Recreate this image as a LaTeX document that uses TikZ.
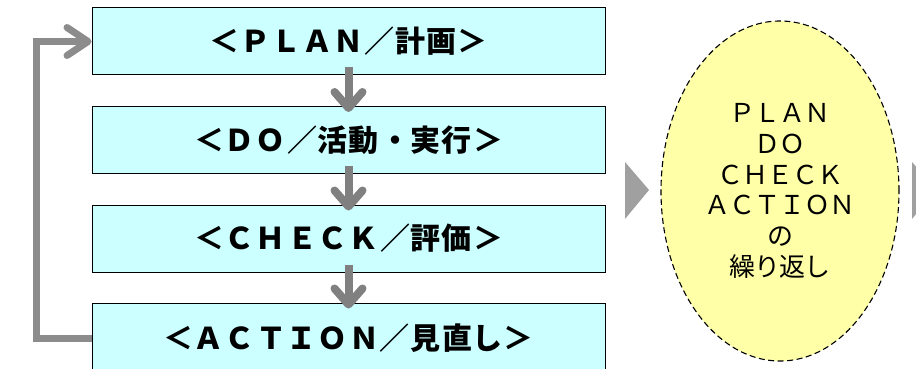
\documentclass[tikz,border=0pt]{standalone}
\usepackage{fontspec}
\newfontfamily\jp{Noto Sans CJK JP}
\usetikzlibrary{arrows.meta,shapes.geometric}
\definecolor{boxfill}{HTML}{CCFFFF}
\definecolor{ovalfill}{HTML}{FFFFA8}
\definecolor{arrgray}{HTML}{808080}
\definecolor{loopgray}{HTML}{8C8C8C}
\definecolor{trigray}{HTML}{A0A0A0}
\makeatletter
\def\lsp#1#2{\def\lsp@sk{#1}\lsp@a#2\relax}
\def\lsp@a#1{\ifx#1\relax\unskip\else#1\hspace{\lsp@sk}\expandafter\lsp@a\fi}
\makeatother
\tikzset{
  stepbox/.style={rectangle, draw=black, line width=1pt, fill=boxfill,
    minimum width=513pt, minimum height=67pt, inner sep=0pt,
    font=\jp\bfseries\fontsize{30}{34}\selectfont},
  oval/.style={ellipse, draw=black, line width=1.1pt, dash pattern=on 6pt off 3.5pt,
    fill=ovalfill, minimum width=238pt, minimum height=340pt, inner sep=0pt,
    align=center, font=\jp\fontsize{26}{30.7}\selectfont},
  flow/.style={draw=arrgray, line width=8pt,
    -{Straight Barb[length=16pt, width=28pt, round]}},
  loopline/.style={draw=loopgray, line width=7pt,
    -{Straight Barb[length=21pt, width=28pt, round]}},
  tri/.style={fill=trigray}
}
\begin{document}
\begin{tikzpicture}[x=1pt,y=-1pt]
\useasboundingbox (0,0) rectangle (916,369);
\node[stepbox] (b1) at (348.5,41.5) {\lsp{1pt}{＜ＰＬＡＮ／計画＞}};
\node[stepbox] (b2) at (348.5,140) {\lsp{1pt}{＜ＤＯ／活動・実行＞}};
\node[stepbox] (b3) at (348.5,238.5) {\lsp{1pt}{＜ＣＨＥＣＫ／評価＞}};
\node[stepbox, minimum height=70pt] (b4) at (348.5,338) {\lsp{1pt}{＜ＡＣＴＩＯＮ／見直し＞}};
\draw[flow] ([yshift=8pt]b1.south) -- ([yshift=-6pt]b2.north);
\draw[flow] ([yshift=8pt]b2.south) -- ([yshift=-6pt]b3.north);
\draw[flow] ([yshift=8pt]b3.south) -- ([yshift=-6pt]b4.north);
\draw[loopline] (b4.west) -- ([xshift=-55pt]b4.west) |- (b1.west);
\node[oval] (e) at (780,191) {\lsp{-1pt}{ＰＬＡＮ}\\\lsp{-1pt}{ＤＯ}\\\lsp{-1pt}{ＣＨＥＣＫ}\\\lsp{-1pt}{ＡＣＴＩＯＮ}\\の\\\lsp{-1pt}{繰り返し}};
\fill[tri] (625,162) -- (625,219) -- (649,190) -- cycle;
\fill[tri] (912,162) -- (912,219) -- (936,190) -- cycle;
\end{tikzpicture}
\end{document}
